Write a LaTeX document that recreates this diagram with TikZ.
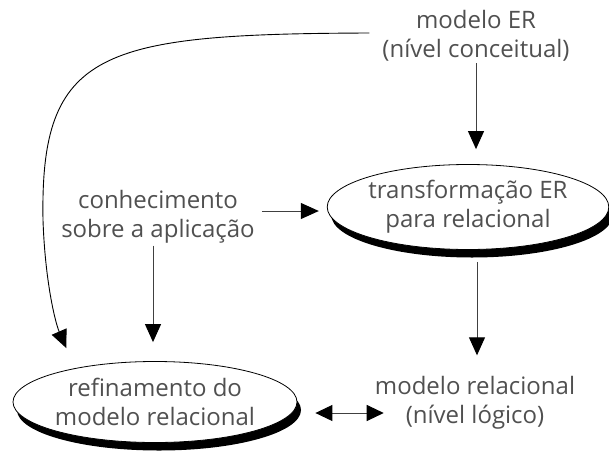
\documentclass[tikz,border=0pt]{standalone}
\usepackage{fontspec}
\setmainfont{Open Sans}
\usetikzlibrary{arrows.meta,shapes.geometric,shadows,calc}
\definecolor{txtgray}{HTML}{505050}
\begin{document}
\begin{tikzpicture}[x=1pt,y=-1pt,
  lbl/.style={align=center,text=txtgray,font=\fontsize{24}{29}\selectfont,inner sep=0pt},
  proc/.style={ellipse,draw=black,fill=white,line width=0.8pt,align=center,
    text=txtgray,font=\fontsize{24}{29}\selectfont,inner sep=0pt,
    drop shadow={shadow xshift=4pt,shadow yshift=-8pt,fill=black,opacity=1}},
  arr/.style={-{Triangle[length=18pt,width=16pt,color=black]},line width=1pt,draw=black!75},
  darr/.style={{Triangle[length=17pt,width=16pt,color=black]}-{Triangle[length=17pt,width=16pt,color=black]},line width=1pt,draw=black!75},
  curv/.style={-{Triangle[length=18pt,width=16pt,color=black]},line width=0.9pt,draw=black},
]
\useasboundingbox (0,0) rectangle (609,452);

\node[lbl] (er) at (476,36) {modelo ER\\(nível conceitual)};
\node[proc,minimum width=270pt,minimum height=85pt] (t) at (468,207) {transformação ER\\para relacional};
\node[lbl] (con) at (158,217) {conhecimento\\sobre a aplicação};
\node[proc,minimum width=284pt,minimum height=81pt] (ref) at (155,402) {refinamento do\\modelo relacional};
\node[lbl] (rel) at (475,403) {modelo relacional\\(nível lógico)};

\draw[arr,shorten >=15pt] ([yshift=-27pt]er.center) -- (er.center |- t.north);
\draw[arr,shorten <=7pt,shorten >=8pt] (con.east |- 0,211) -- (t.west |- 0,211);
\draw[arr,shorten <=2pt,shorten >=19pt] (con.south -| 153,0) -- (ref.north -| 153,0);
\draw[arr,shorten <=12pt,shorten >=21pt] (t.south -| 477,0) -- (rel.north -| 477,0);
\draw[darr,shorten <=18pt,shorten >=-9pt] ([yshift=-11pt]ref.east) -- ([yshift=-11pt]ref.east -| rel.west);

\draw[curv] ([xshift=-13pt,yshift=3pt]er.west) .. controls (100,34) and (40,50) .. (43,220)
  .. controls (45,280) and (55,322) .. ($(ref.north west)+(12,-25)$);
\end{tikzpicture}
\end{document}
